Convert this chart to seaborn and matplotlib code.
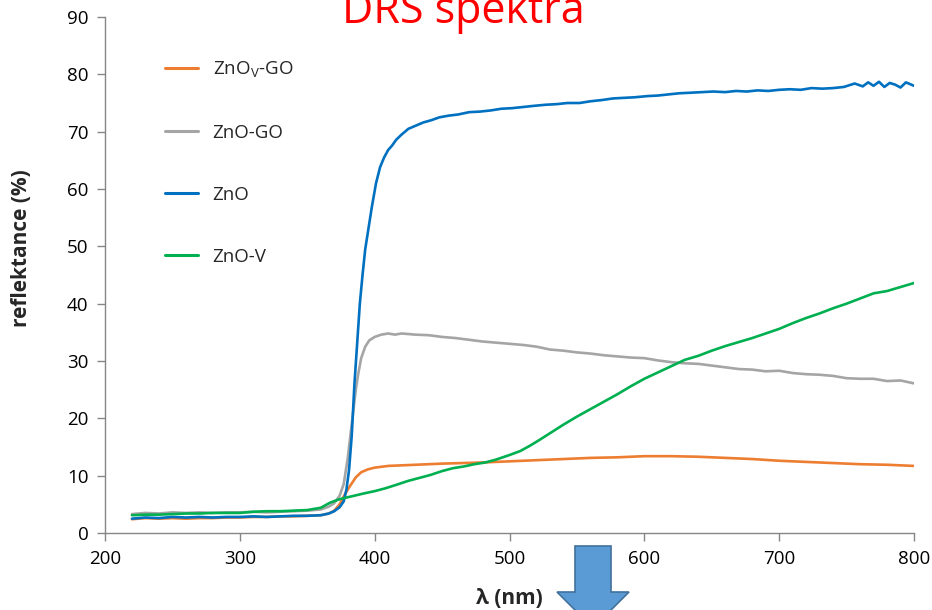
import matplotlib
matplotlib.use("Agg")
import matplotlib.pyplot as plt
import seaborn as sns
import pandas as pd
from matplotlib.patches import Polygon

# ---------------- data ----------------
series_names = ["ZnO$_\\mathrm{V}$-GO", "ZnO-GO", "ZnO", "ZnO-V"]
series_colors = ["#ED7D31", "#A5A5A5", "#0070C0", "#00B050"]

zno_v_go_x = [220, 230, 240, 250, 260, 270, 280, 290, 300, 310, 320, 330, 340, 350, 360,
              366, 370, 374, 378, 382, 386, 390, 395, 400, 410, 420, 430, 440, 450, 465,
              480, 500, 520, 540, 560, 580, 600, 620, 640, 660, 680, 700, 720, 740, 760,
              780, 800]
zno_v_go_y = [2.4, 2.6, 2.5, 2.6, 2.5, 2.6, 2.6, 2.7, 2.7, 2.8, 2.8, 2.9, 2.9, 3.0, 3.1,
              3.4, 3.9, 5.0, 6.8, 8.3, 9.7, 10.6, 11.1, 11.4, 11.7, 11.8, 11.9, 12.0, 12.1, 12.2,
              12.3, 12.5, 12.7, 12.9, 13.1, 13.2, 13.4, 13.4, 13.3, 13.1, 12.9, 12.6, 12.4, 12.2, 12.0,
              11.9, 11.7]

zno_go_x = [220, 230, 240, 250, 260, 270, 280, 290, 300, 310, 320, 330, 340, 350, 360,
            366, 370, 374, 377, 380, 382, 384, 386, 388, 390, 393, 396, 400, 405, 410,
            415, 420, 430, 440, 450, 460, 470, 480, 490, 500, 510, 520, 530, 540, 550,
            560, 570, 580, 590, 600, 610, 620, 630, 640, 650, 660, 670, 680, 690, 700,
            710, 720, 730, 740, 750, 760, 770, 780, 790, 800]
zno_go_y = [3.3, 3.5, 3.4, 3.6, 3.5, 3.6, 3.5, 3.6, 3.6, 3.7, 3.6, 3.7, 3.8, 3.9, 4.1,
            4.6, 5.2, 6.5, 8.5, 13.0, 17.0, 21.0, 25.0, 28.0, 30.5, 32.5, 33.6, 34.2, 34.6, 34.8,
            34.6, 34.8, 34.6, 34.5, 34.2, 34.0, 33.7, 33.4, 33.2, 33.0, 32.8, 32.5, 32.0, 31.8, 31.5,
            31.3, 31.0, 30.8, 30.6, 30.5, 30.1, 29.8, 29.6, 29.5, 29.2, 28.9, 28.6, 28.5, 28.2, 28.3,
            27.9, 27.7, 27.6, 27.4, 27.0, 26.9, 26.9, 26.5, 26.6, 26.1]

zno_x = [220, 230, 240, 250, 260, 270, 280, 290, 300, 310, 320, 330, 340, 350, 360,
         366, 370, 374, 377, 379, 381, 383, 385, 387, 389, 391, 393, 395, 398, 401,
         404, 407, 410, 413, 416, 420, 425, 430, 436, 442, 448, 455, 462, 470, 478,
         486, 494, 502, 510, 518, 527, 535, 543, 552, 560, 568, 577, 585, 593, 602,
         610, 618, 626, 635, 643, 651, 660, 668, 676, 684, 692, 700, 708, 716, 724,
         732, 740, 748, 756, 762, 766, 770, 774, 778, 782, 786, 790, 794, 797, 800]
zno_y = [2.5, 2.7, 2.6, 2.8, 2.7, 2.8, 2.7, 2.8, 2.8, 2.9, 2.8, 2.9, 3.0, 3.0, 3.1,
         3.4, 3.8, 4.5, 5.5, 7.5, 11.0, 17.0, 26.0, 33.0, 40.0, 45.0, 49.5, 52.5, 57.0, 61.0,
         63.8, 65.5, 66.8, 67.6, 68.6, 69.5, 70.5, 71.0, 71.6, 72.0, 72.5, 72.8, 73.0, 73.4, 73.5,
         73.7, 74.0, 74.1, 74.3, 74.5, 74.7, 74.8, 75.0, 75.0, 75.3, 75.5, 75.8, 75.9, 76.0, 76.2,
         76.3, 76.5, 76.7, 76.8, 76.9, 77.0, 76.9, 77.1, 77.0, 77.2, 77.1, 77.3, 77.4, 77.3, 77.6,
         77.5, 77.6, 77.8, 78.4, 77.9, 78.6, 78.0, 78.7, 77.8, 78.5, 78.2, 77.7, 78.6, 78.3, 78.0]

zno_v_x = [220, 230, 240, 250, 260, 270, 280, 290, 300, 310, 320, 330, 340, 350, 360,
           367, 374, 383, 392, 400, 408, 416, 425, 433, 441, 450, 458, 466, 474, 482,
           490, 500, 508, 515, 522, 530, 540, 550, 560, 570, 580, 590, 600, 610, 620,
           630, 640, 650, 660, 670, 680, 690, 700, 710, 720, 730, 740, 750, 760, 770,
           780, 790, 800]
zno_v_y = [3.1, 3.2, 3.2, 3.3, 3.4, 3.4, 3.5, 3.5, 3.5, 3.7, 3.8, 3.8, 3.9, 4.0, 4.4,
           5.3, 5.9, 6.4, 6.9, 7.3, 7.8, 8.4, 9.1, 9.6, 10.1, 10.8, 11.3, 11.6, 12.0, 12.3,
           12.8, 13.6, 14.3, 15.2, 16.2, 17.4, 18.9, 20.3, 21.6, 22.9, 24.2, 25.6, 26.9, 28.0, 29.1,
           30.2, 30.9, 31.8, 32.6, 33.3, 34.0, 34.8, 35.6, 36.6, 37.5, 38.3, 39.2, 40.0, 40.9, 41.8,
           42.2, 42.9, 43.6]

x_ticks = [200, 300, 400, 500, 600, 700, 800]
y_ticks = [0, 10, 20, 30, 40, 50, 60, 70, 80, 90]

frames = []
for name, xs, ys in zip(series_names,
                        [zno_v_go_x, zno_go_x, zno_x, zno_v_x],
                        [zno_v_go_y, zno_go_y, zno_y, zno_v_y]):
    frames.append(pd.DataFrame({"wl": xs, "R": ys, "sample": name}))
df = pd.concat(frames, ignore_index=True)

# ---------------- styling ----------------
sns.set_style("white")
plt.rcParams["font.family"] = ["Open Sans", "DejaVu Sans"]
plt.rcParams["mathtext.fontset"] = "custom"
plt.rcParams["mathtext.rm"] = "Open Sans"

fig = plt.figure(figsize=(9.32, 6.10), dpi=100)
ax = fig.add_axes([105 / 932, 1 - 533 / 610, (914 - 105) / 932, (533 - 17) / 610])

sns.lineplot(data=df, x="wl", y="R", hue="sample", hue_order=series_names,
             palette=series_colors, estimator=None, sort=False, linewidth=1.9, ax=ax)

ax.set_xlim(200, 800)
ax.set_ylim(0, 90)
ax.set_xticks(x_ticks)
ax.set_yticks(y_ticks)
ax.tick_params(axis="both", labelsize=13.5, colors="#868686", labelcolor="black",
               direction="out", length=6, width=1, left=True, bottom=True, pad=6)
for s in ["top", "right"]:
    ax.spines[s].set_visible(False)
for s in ["left", "bottom"]:
    ax.spines[s].set_color("#868686")
    ax.spines[s].set_linewidth(1)

ax.set_ylabel("reflektance (%)", fontsize=15, fontweight="bold")
ax.yaxis.set_label_coords(-0.1026, 0.552)
ax.yaxis.label.set_va("center")
ax.set_xlabel("λ (nm)", fontsize=15, fontweight="bold")
ax.xaxis.set_label_coords(0.5, -0.126)
ax.xaxis.label.set_va("center")

leg = ax.legend(loc="upper left", bbox_to_anchor=(0.074, 0.917), frameon=False,
                fontsize=13.5, handlelength=1.75, handletextpad=0.8,
                labelspacing=2.34, borderpad=0, borderaxespad=0)
for line in leg.get_lines():
    line.set_linewidth(2.2)

fig.text(0.497, 1 - 23 / 610, "DRS spektra", color="#FF0000", fontsize=31,
         ha="center", va="baseline")

# decorative block arrow at the bottom
pts_px = [(575, 546), (611, 546), (611, 592), (629, 592), (593, 628), (557, 592), (575, 592)]
arrow = Polygon([(x / 932, 1 - y / 610) for x, y in pts_px], closed=True,
                transform=fig.transFigure, facecolor="#5B9BD5", edgecolor="#41719C",
                linewidth=1.2, clip_on=False, zorder=5)
fig.patches.append(arrow)

fig.savefig("out.png", dpi=100)
